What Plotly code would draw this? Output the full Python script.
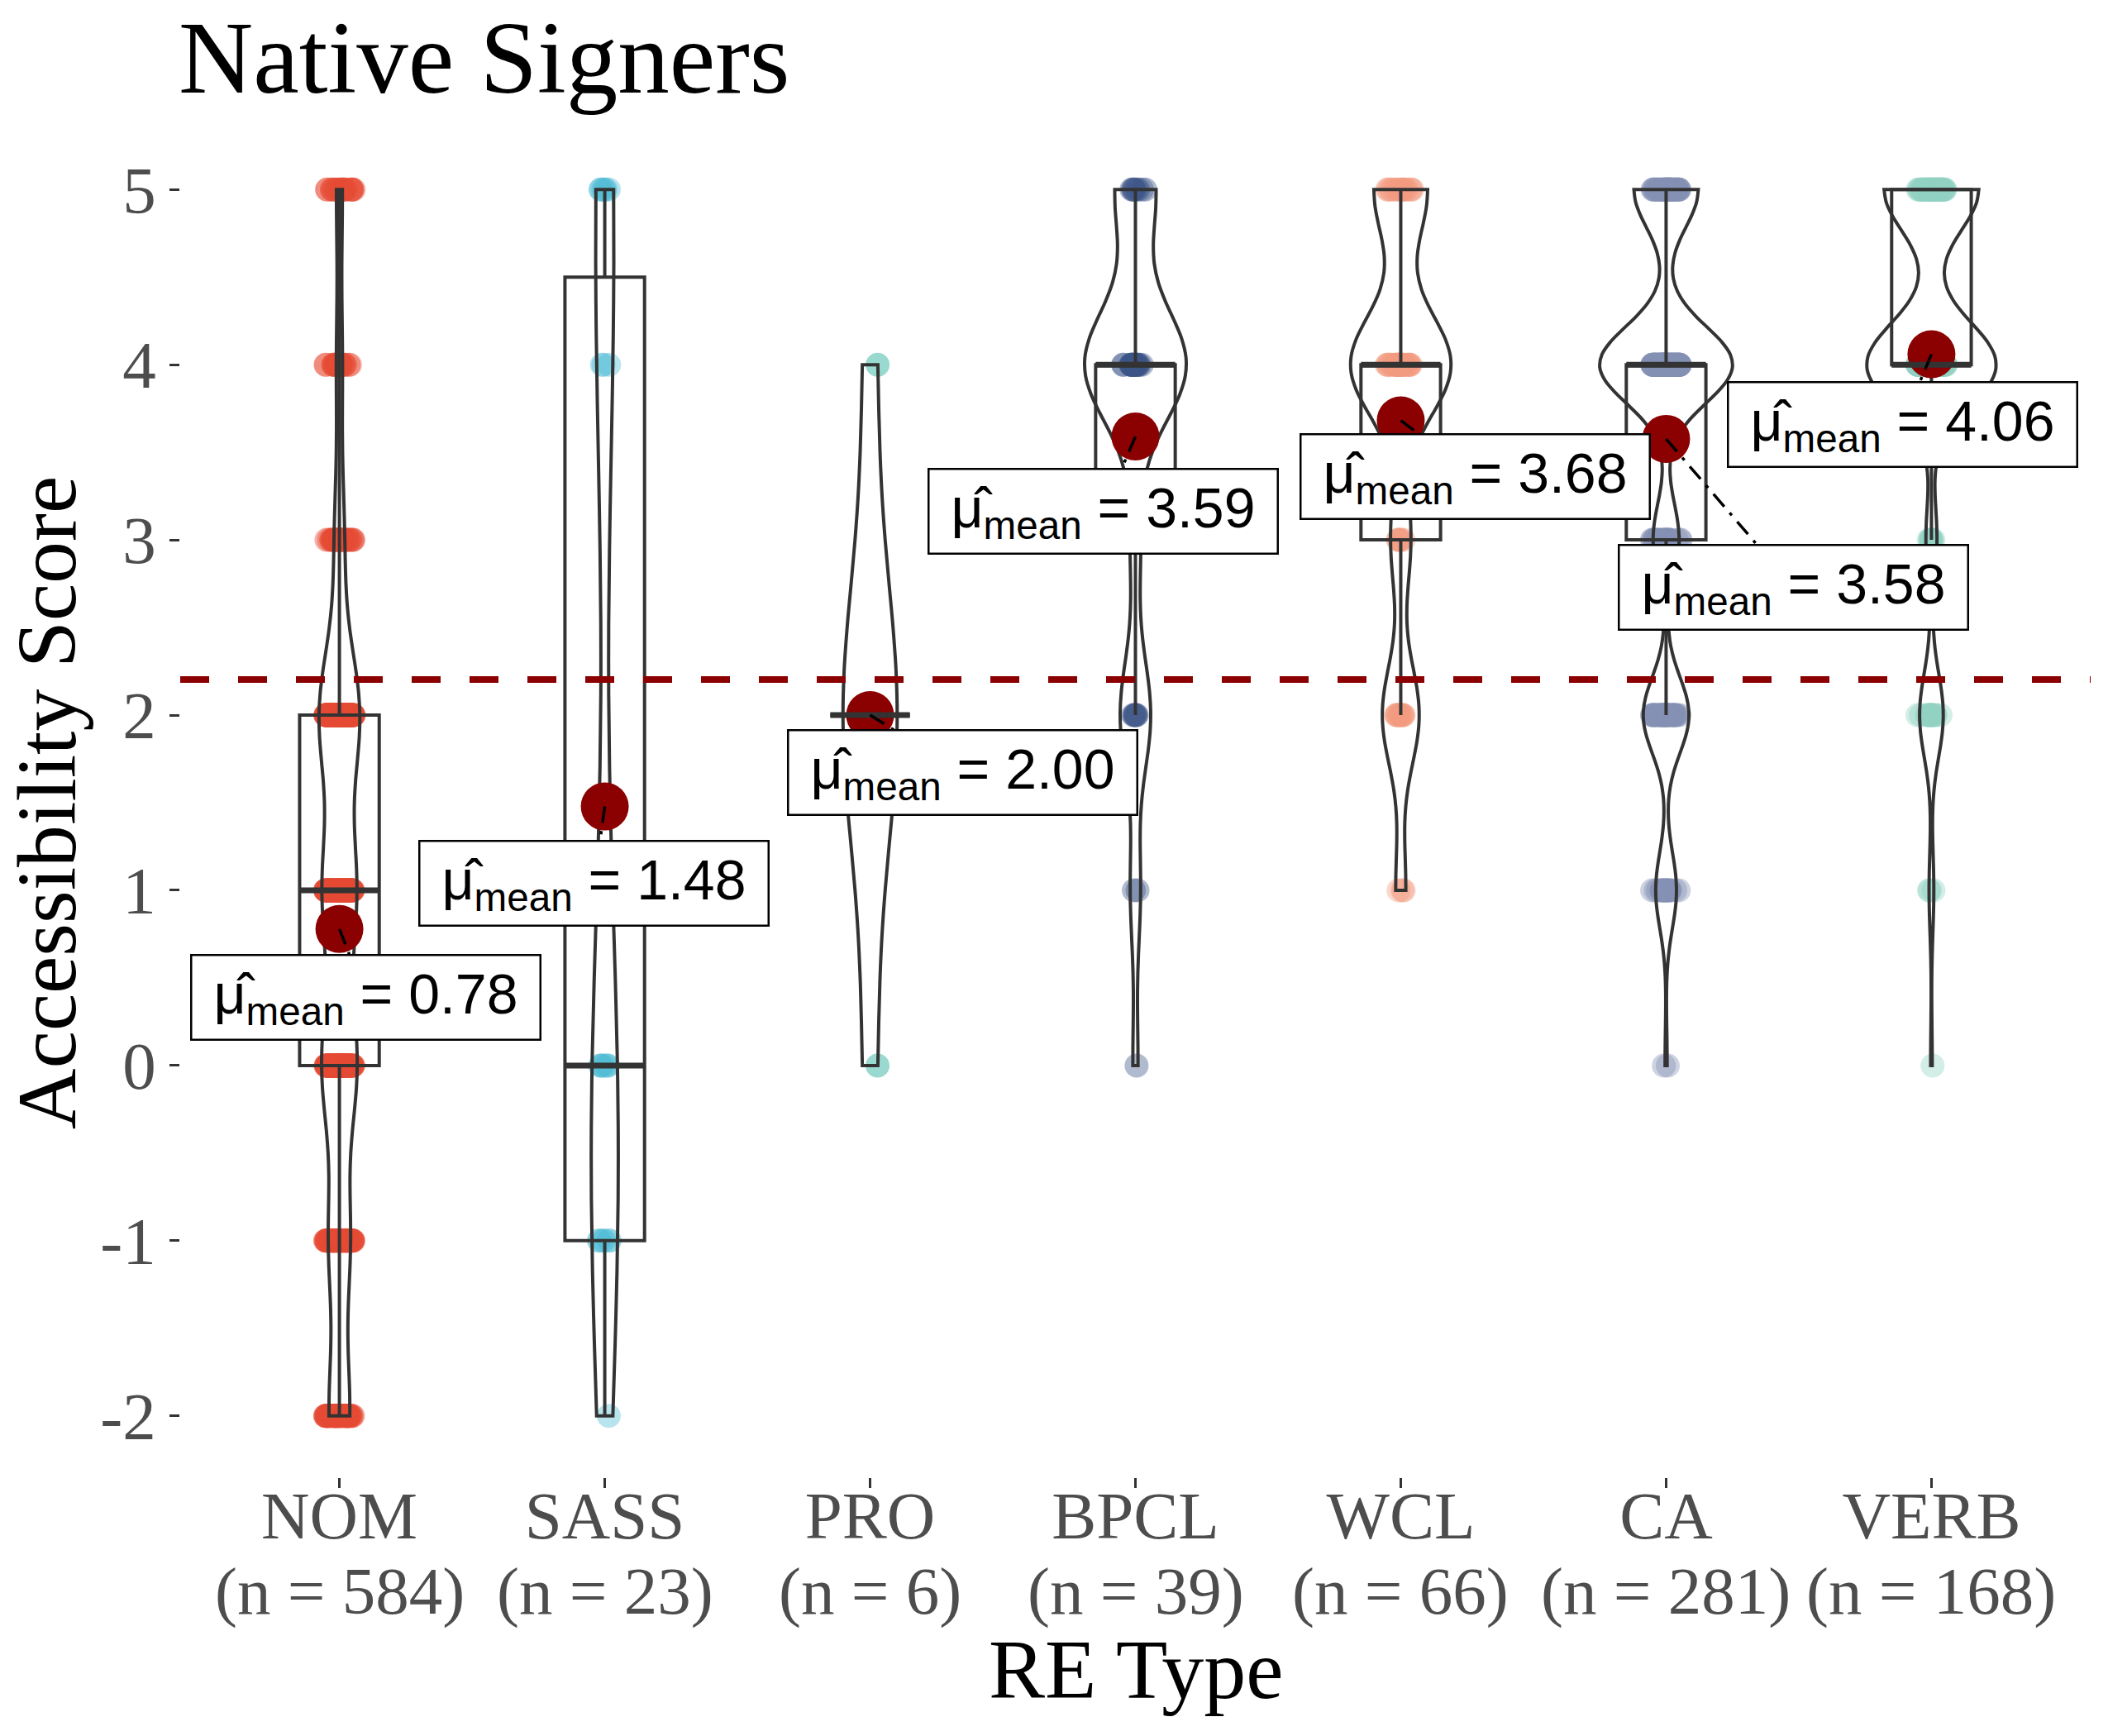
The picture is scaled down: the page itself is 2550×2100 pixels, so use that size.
import numpy as np
import plotly.graph_objects as go

# ---------------- data ----------------
CATEGORIES = ["NOM", "SASS", "PRO", "BPCL", "WCL", "CA", "VERB"]
SCORES = [-2, -1, 0, 1, 2, 3, 4, 5]
NOM_COUNTS = [70, 72, 118, 114, 137, 33, 20, 20]
SASS_COUNTS = [1, 6, 7, 0, 0, 0, 3, 6]
PRO_COUNTS = [0, 0, 1, 0, 4, 0, 1, 0]
BPCL_COUNTS = [0, 0, 1, 2, 6, 2, 20, 8]
WCL_COUNTS = [0, 0, 0, 3, 11, 6, 30, 16]
CA_COUNTS = [0, 0, 2, 20, 44, 25, 128, 62]
VERB_COUNTS = [0, 0, 1, 3, 15, 7, 82, 60]
COLORS = ["#E64B35", "#4DBBD5", "#00A087", "#3C5488", "#F39B7F", "#8491B4", "#91D1C2"]
Y_TICKS = [-2, -1, 0, 1, 2, 3, 4, 5]
Y_TICK_LABELS = ["-2", "-1", "0", "1", "2", "3", "4", "5"]
TITLE = "Native Signers"
X_TITLE = "RE Type"
Y_TITLE = "Accessibility Score"

# layout: centre of each mean label, in axis units (x = category index)
LABEL_POS = [(0.10, 0.39), (0.96, 1.04), (2.35, 1.67), (2.88, 3.165),
             (4.28, 3.36), (5.48, 2.73), (5.89, 3.66)]

COUNTS = [NOM_COUNTS, SASS_COUNTS, PRO_COUNTS, BPCL_COUNTS, WCL_COUNTS, CA_COUNTS, VERB_COUNTS]
DATA = [np.repeat(SCORES, c).astype(float) for c in COUNTS]


def nrd0(x):
    """R's default bandwidth (bw.nrd0), as used by ggplot2 violins."""
    x = np.asarray(x, float)
    hi = np.std(x, ddof=1)
    q75, q25 = np.percentile(x, [75, 25])
    lo = min(hi, (q75 - q25) / 1.34)
    if lo == 0:
        lo = hi or abs(x[0]) or 1.0
    return 0.9 * lo * len(x) ** -0.2


def max_kde(x, bw):
    grid = np.linspace(x.min(), x.max(), 512)
    z = (grid[:, None] - x[None, :]) / bw
    dens = np.exp(-0.5 * z * z).sum(axis=1) / (len(x) * bw * np.sqrt(2 * np.pi))
    return dens.max()


SERIF = "Liberation Serif"
SANS = "Liberation Sans"
DARK = "#333333"
MEAN_COL = "#8B0000"
MAX_VIOLIN_WIDTH = 0.5

bws = [nrd0(y) for y in DATA]
peaks = [max_kde(y, bw) for y, bw in zip(DATA, bws)]
vwidths = [MAX_VIOLIN_WIDTH * p / max(peaks) for p in peaks]  # equal-area scaling

fig = go.Figure()

# jittered raw points (drawn first, underneath everything)
for i, (cat, y) in enumerate(zip(CATEGORIES, DATA)):
    fig.add_trace(go.Violin(
        x=[cat] * len(y), y=y, points="all", jitter=0.36, pointpos=0,
        width=0.3, spanmode="hard", scalegroup=f"pts{i}",
        line=dict(width=0, color="rgba(0,0,0,0)"), fillcolor="rgba(0,0,0,0)",
        marker=dict(size=29, color=COLORS[i], opacity=0.4, line=dict(width=0)),
        showlegend=False, hoverinfo="skip"))

# violins
for i, (cat, y) in enumerate(zip(CATEGORIES, DATA)):
    fig.add_trace(go.Violin(
        x=[cat] * len(y), y=y, points=False, width=vwidths[i], spanmode="hard",
        bandwidth=bws[i], scalegroup=f"v{i}", scalemode="width",
        line=dict(width=4, color=DARK), fillcolor="rgba(255,255,255,0)",
        showlegend=False, hoverinfo="skip"))

# boxplots
for i, (cat, y) in enumerate(zip(CATEGORIES, DATA)):
    fig.add_trace(go.Box(
        x=[cat] * len(y), y=y, width=0.3, boxpoints="outliers",
        quartilemethod="inclusive", whiskerwidth=0,
        marker=dict(opacity=0, size=1),
        line=dict(width=4, color=DARK), fillcolor="rgba(255,255,255,0)",
        showlegend=False, hoverinfo="skip"))

means = [float(np.mean(y)) for y in DATA]
medians = [float(np.median(y)) for y in DATA]

fig.add_trace(go.Scatter(
    x=CATEGORIES, y=means, mode="markers",
    marker=dict(size=58, color=MEAN_COL, line=dict(width=0)),
    showlegend=False, hoverinfo="skip"))

shapes = []
# thicker median bars
for i, m in enumerate(medians):
    shapes.append(dict(type="line", xref="x", yref="y", x0=i - 0.15, x1=i + 0.15,
                       y0=m, y1=m, line=dict(color=DARK, width=7), layer="above"))
# reference line at the grand mean
grand_mean = float(np.mean(np.concatenate(DATA)))
shapes.append(dict(type="line", xref="paper", yref="y", x0=0, x1=1,
                   y0=grand_mean, y1=grand_mean,
                   line=dict(color=MEAN_COL, width=8, dash="35px,35px"), layer="above"))
# label connectors
for i, (m, (lx, ly)) in enumerate(zip(means, LABEL_POS)):
    shapes.append(dict(type="line", xref="x", yref="y", x0=i, y0=m, x1=lx, y1=ly,
                       line=dict(color="black", width=3.5, dash="20px,10px,4px,10px"),
                       layer="above"))

annotations = []
for m, (lx, ly) in zip(means, LABEL_POS):
    annotations.append(dict(
        x=lx, y=ly, xref="x", yref="y", showarrow=False,
        text=f"\u00a0\u03bc\u0302<sub>mean</sub> = {m:.2f}\u00a0",
        font=dict(family=SANS, size=68, color="black"),
        bgcolor="white", bordercolor="black", borderwidth=2.5, borderpad=7,
        xanchor="center", yanchor="middle"))

# second line of the x tick labels: group sizes
PLOT_TOP, PLOT_H = 155, 1632
for i, y in enumerate(DATA):
    annotations.append(dict(
        x=i, xref="x", y=(PLOT_TOP + PLOT_H - 1925) / PLOT_H, yref="paper",
        text=f"(n = {len(y)})", showarrow=False, xanchor="center", yanchor="middle",
        font=dict(family=SERIF, size=81, color="#4D4D4D")))
# x-axis title
annotations.append(dict(
    x=0.5, xref="paper", y=(PLOT_TOP + PLOT_H - 2019) / PLOT_H, yref="paper",
    text=X_TITLE, showarrow=False, xanchor="center", yanchor="middle",
    font=dict(family=SERIF, size=102, color="black")))

fig.update_layout(
    width=2550, height=2100,
    margin=dict(l=218, r=21, t=PLOT_TOP, b=2100 - PLOT_TOP - PLOT_H, autoexpand=False),
    paper_bgcolor="white", plot_bgcolor="white",
    violinmode="overlay", boxmode="overlay",
    title=dict(text=TITLE, x=216 / 2550, xanchor="left", xref="container",
               y=1 - 68 / 2100, yanchor="middle", yref="container",
               font=dict(family=SERIF, size=125, color="black")),
    shapes=shapes, annotations=annotations,
    xaxis=dict(type="category", categoryorder="array", categoryarray=CATEGORIES,
               range=[-0.6, 6.6], tickmode="array", tickvals=CATEGORIES, ticktext=CATEGORIES,
               tickfont=dict(family=SERIF, size=81, color="#4D4D4D"),
               ticks="outside", ticklen=12, tickwidth=3, tickcolor=DARK,
               ticklabelstandoff=-36,
               showgrid=False, zeroline=False, showline=False, automargin=False),
    yaxis=dict(range=[-2.35, 5.35], tickmode="array", tickvals=Y_TICKS, ticktext=Y_TICK_LABELS,
               tickfont=dict(family=SERIF, size=81, color="#4D4D4D"),
               ticks="outside", ticklen=12, tickwidth=3, tickcolor=DARK,
               showgrid=False, zeroline=False, showline=False, automargin=False,
               title=dict(text=Y_TITLE, standoff=22,
                          font=dict(family=SERIF, size=102, color="black"))),
)

fig.write_html("out.html", config={"displayModeBar": False},
               post_script="document.body.style.margin='0';document.body.style.overflow='hidden';")
